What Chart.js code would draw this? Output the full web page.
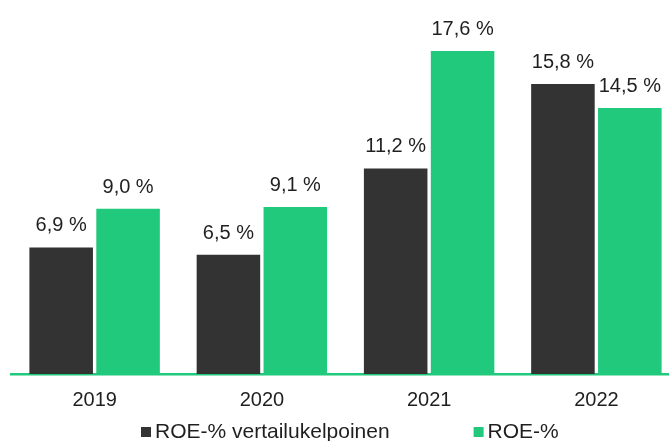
<!DOCTYPE html>
<html>
<head>
<meta charset="utf-8">
<script src="https://cdn.jsdelivr.net/npm/chart.js@4"></script>
<style>
  html, body { margin: 0; padding: 0; background: #fff; overflow: hidden; }
  #wrap { width: 680px; height: 441px; }
</style>
</head>
<body>
<div id="wrap"><canvas id="myChart" width="680" height="441"></canvas></div>
<script>
const years = ['2019', '2020', '2021', '2022'];
const roeComparable = [6.9, 6.5, 11.2, 15.8];
const roe = [9.0, 9.1, 17.6, 14.5];
const seriesNames = ['ROE-% vertailukelpoinen', 'ROE-%'];

const DARK = '#333333';
const GREEN = '#20C97B';
const TEXT = '#1f1f1f';
const FONT = "'Liberation Sans', Arial, sans-serif";

function fmt(v) {
    return v.toFixed(1).replace('.', ',') + ' %';
}

// value labels above the bars
const barLabels = {
    id: 'barLabels',
    afterDatasetsDraw(chart) {
        const ctx = chart.ctx;
        ctx.save();
        ctx.font = '20px ' + FONT;
        ctx.fillStyle = TEXT;
        ctx.textAlign = 'center';
        ctx.textBaseline = 'alphabetic';
        chart.data.datasets.forEach((ds, i) => {
            chart.getDatasetMeta(i).data.forEach((bar, j) => {
                ctx.fillText(fmt(ds.data[j]), bar.x, bar.y - 16);
            });
        });
        ctx.restore();
    }
};

// legend drawn below the axis, square markers
const bottomLegend = {
    id: 'bottomLegend',
    afterDraw(chart) {
        const ctx = chart.ctx;
        ctx.save();
        ctx.font = '21px ' + FONT;
        ctx.textBaseline = 'alphabetic';
        ctx.textAlign = 'left';
        let x = 141;
        const y = 438;
        chart.data.datasets.forEach((ds, i) => {
            ctx.fillStyle = ds.backgroundColor;
            ctx.fillRect(x, y - 11, 10, 10);
            ctx.fillStyle = TEXT;
            ctx.fillText(ds.label, x + 14, y);
            x += 14 + ctx.measureText(ds.label).width + 84;
        });
        ctx.restore();
    }
};

function displayChart() {
    const ctx = document.getElementById('myChart');
    new Chart(ctx, {
        type: 'bar',
        data: {
            labels: years,
            datasets: [{
                label: seriesNames[0],
                data: roeComparable,
                backgroundColor: DARK
            }, {
                label: seriesNames[1],
                data: roe,
                backgroundColor: GREEN
            }]
        },
        options: {
            responsive: false,
            animation: false,
            categoryPercentage: 0.8,
            barPercentage: 0.95,
            layout: {
                padding: { left: 11, right: 0, top: 7, bottom: 15 }
            },
            scales: {
                x: {
                    grid: { display: false, drawTicks: false },
                    border: { display: true, color: GREEN, width: 2.5 },
                    ticks: {
                        padding: 14,
                        color: TEXT,
                        font: { family: FONT, size: 20 }
                    }
                },
                y: {
                    display: false,
                    min: 0,
                    max: 20
                }
            },
            plugins: {
                legend: { display: false },
                tooltip: { enabled: false }
            }
        },
        plugins: [barLabels, bottomLegend]
    });
}

document.addEventListener('DOMContentLoaded', () => {
    displayChart();
});
</script>
</body>
</html>
